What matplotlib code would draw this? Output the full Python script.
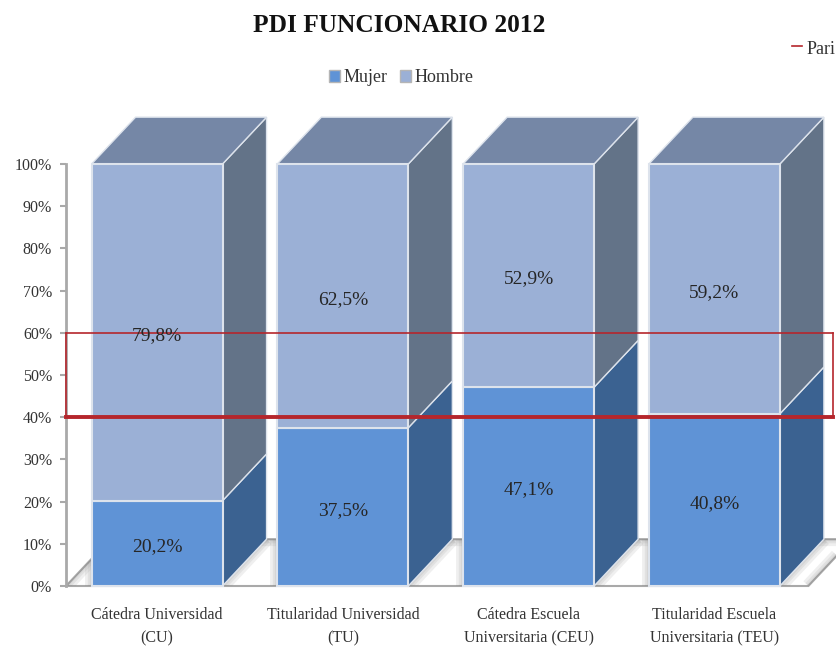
import matplotlib.pyplot as plt
from matplotlib.lines import Line2D
from matplotlib.patches import Patch

plt.rcParams['font.family'] = ['Liberation Serif', 'DejaVu Serif']

categorias = ["Cátedra Universidad\n(CU)", "Titularidad Universidad\n(TU)",
              "Cátedra Escuela\nUniversitaria (CEU)", "Titularidad Escuela\nUniversitaria (TEU)"]
mujer = [20.2, 37.5, 47.1, 40.8]
hombre = [79.8, 62.5, 52.9, 59.2]
paridad = [40, 60]
ticks_y = list(range(0, 101, 10))

# colores
c_mujer = "#5f93d6"
c_mujer_lado = "#3b6291"
c_hombre = "#9bb0d6"
c_hombre_lado = "#637388"
c_tapa = "#7587a6"
c_borde = "#dde3ec"
c_gris = "#a9a9a9"
c_rojo = "#b5262c"
c_texto = "#262626"

ancho = 0.705
prof_x = 0.237
prof_y = 11.1
x_min, x_max = -0.49, 3.66
x_suelo = 3.506
x_banda = 3.64

fig = plt.figure(figsize=(8.37, 6.52), dpi=100)
ax = fig.add_axes([66 / 837, (652 - 586) / 652, (837 - 66) / 837, (586 - 164) / 652])
ax.set_xlim(x_min, x_max)
ax.set_ylim(0, 100)

# suelo, con sombra difusa hacia adentro
suelo = ax.fill([x_min, x_min + prof_x, x_suelo + prof_x, x_suelo], [0, prof_y, prof_y, 0],
                facecolor="white", edgecolor=c_gris, lw=1.5, clip_on=False, zorder=1)[0]
suelo_clip = ax.fill([x_min, x_min + prof_x, x_suelo + prof_x, x_suelo], [0, prof_y, prof_y, 0],
                     facecolor="none", edgecolor="none", clip_on=False, zorder=1)[0]

def sombra(xs, ys):
    for lw in [10, 6, 3]:
        linea, = ax.plot(xs, ys, color="#808080", alpha=0.12, lw=lw, zorder=1.5,
                         solid_capstyle="butt")
        linea.set_clip_path(suelo_clip)

sombra([x_min, x_min + prof_x, x_suelo + prof_x, x_suelo], [0, prof_y, prof_y, 0])

for i in range(len(categorias)):
    izq = i - ancho / 2
    der = i + ancho / 2
    m = mujer[i]
    total = mujer[i] + hombre[i]

    sombra([der, der + prof_x], [0, prof_y])
    sombra([izq, izq], [0, prof_y])

    # caras frontales
    ax.bar(i, m, ancho, color=c_mujer, edgecolor=c_borde, lw=1.5, clip_on=False, zorder=3)
    ax.bar(i, hombre[i], ancho, bottom=m, color=c_hombre, edgecolor=c_borde, lw=1.5,
           clip_on=False, zorder=3)
    # caras laterales
    ax.fill([der, der + prof_x, der + prof_x, der], [0, prof_y, m + prof_y, m],
            facecolor=c_mujer_lado, edgecolor=c_borde, lw=1, clip_on=False, zorder=2)
    ax.fill([der, der + prof_x, der + prof_x, der], [m, m + prof_y, total + prof_y, total],
            facecolor=c_hombre_lado, edgecolor=c_borde, lw=1, clip_on=False, zorder=2)
    # tapa
    ax.fill([izq, izq + prof_x, der + prof_x, der], [total, total + prof_y, total + prof_y, total],
            facecolor=c_tapa, edgecolor=c_borde, lw=1, clip_on=False, zorder=2)

    ax.annotate(f"{m:.1f}%".replace(".", ","), (i, m / 2), xytext=(0, -2.5),
                textcoords="offset points", ha="center", va="center",
                fontsize=14, color=c_texto, zorder=6)
    ax.annotate(f"{hombre[i]:.1f}%".replace(".", ","), (i, m + hombre[i] / 2), xytext=(0, -2.5),
                textcoords="offset points", ha="center", va="center",
                fontsize=14, color=c_texto, zorder=6)

# banda de paridad
ax.plot([x_min, x_min], paridad, color=c_rojo, lw=1.2, clip_on=False, zorder=5)
ax.plot([x_banda, x_banda], paridad, color=c_rojo, lw=1.2, clip_on=False, zorder=5)
ax.plot([x_min, x_banda], [paridad[1], paridad[1]], color=c_rojo, lw=1.2, clip_on=False, zorder=5)
ax.plot([x_min, x_banda], [paridad[0], paridad[0]], color=c_rojo, lw=2.8, clip_on=False, zorder=5)

# ejes
for lado in ["top", "right", "bottom"]:
    ax.spines[lado].set_visible(False)
ax.spines["left"].set_color(c_gris)
ax.spines["left"].set_linewidth(2)
ax.set_yticks(ticks_y)
ax.set_yticklabels([f"{t}%" for t in ticks_y], fontsize=11.5, color="#333333")
ax.tick_params(axis="y", color=c_gris, length=4, width=1.5, pad=6)
ax.set_xticks(range(len(categorias)))
ax.set_xticklabels(categorias, fontsize=11.5, color="#333333", linespacing=1.65)
ax.tick_params(axis="x", length=0, pad=15)

fig.text(399 / 837, 1 - 25 / 652, "PDI FUNCIONARIO 2012", ha="center", va="center",
         fontsize=18.3, fontweight="bold", color="#111111")

fig.legend(handles=[Patch(facecolor=c_mujer, edgecolor="#b5b5b5", label="Mujer"),
                    Patch(facecolor=c_hombre, edgecolor="#b5b5b5", label="Hombre")],
           loc="center", bbox_to_anchor=(401 / 837, 1 - 78 / 652), ncol=2, frameon=False,
           fontsize=13, handlelength=0.6, handleheight=0.6, handletextpad=0.2,
           columnspacing=0.7, labelcolor="#333333")

fig.add_artist(Line2D([792 / 837, 802 / 837], [1 - 46 / 652, 1 - 46 / 652], color=c_rojo, lw=1.2))
fig.text(807 / 837, 1 - 49 / 652, "Pari", ha="left", va="center", fontsize=13, color="#333333")

fig.savefig("out.png", dpi=100)
